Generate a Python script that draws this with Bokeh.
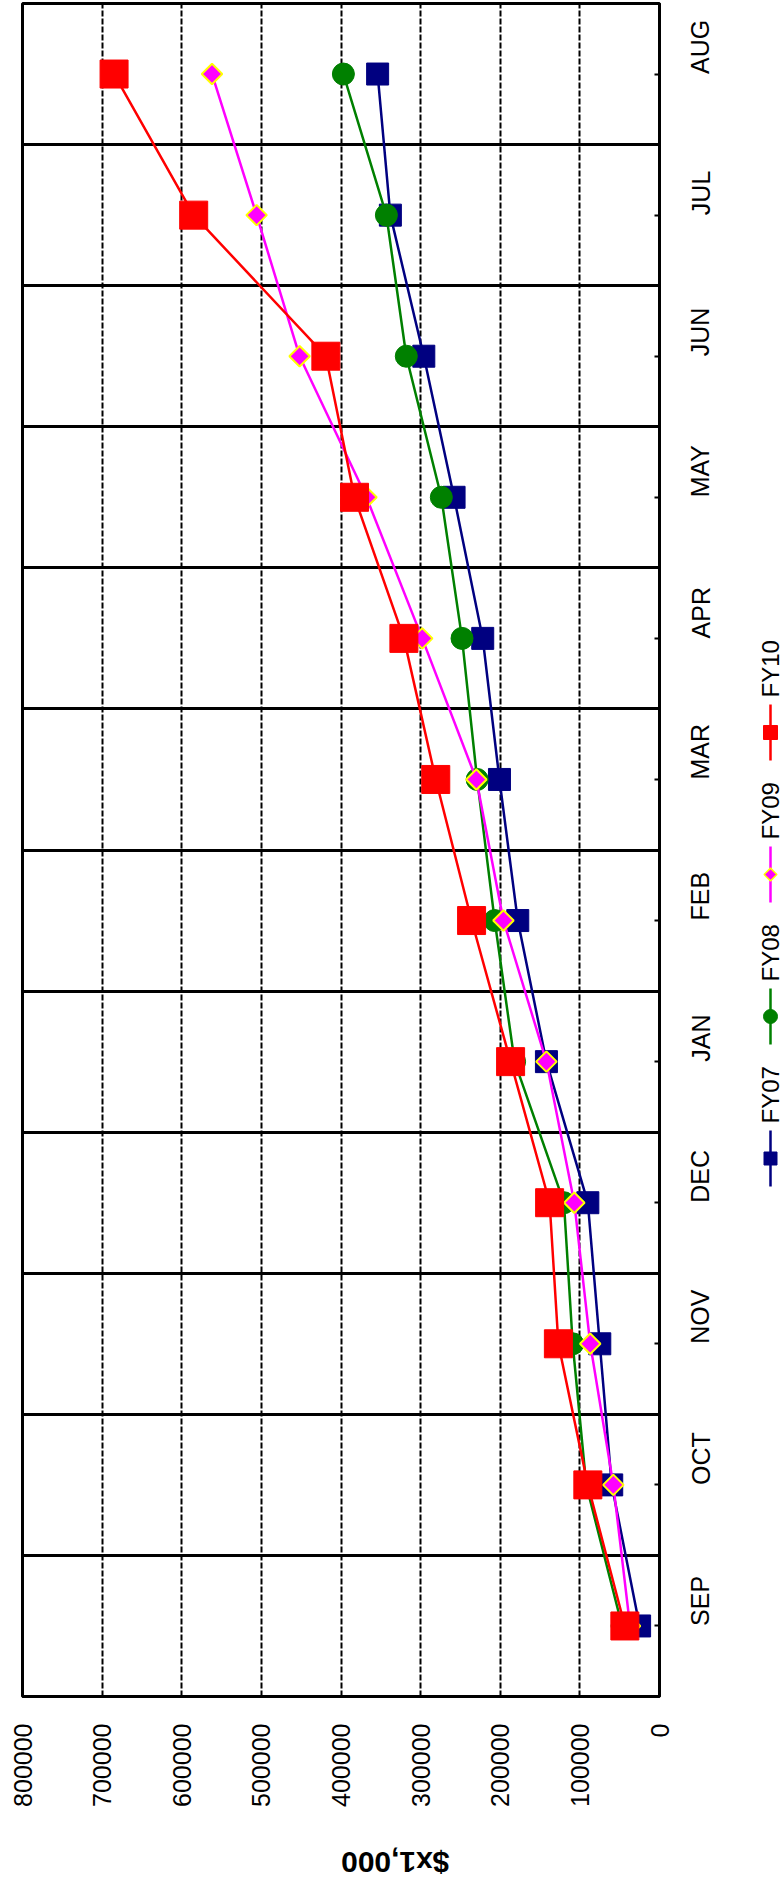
import math
from bokeh.plotting import figure
from bokeh.layouts import row
from bokeh.models import Range1d, FixedTicker, BasicTickFormatter
from bokeh.embed import file_html
from bokeh.resources import INLINE
from bokeh.core.properties import value

# ---------------- data ----------------
months = ["SEP", "OCT", "NOV", "DEC", "JAN", "FEB", "MAR", "APR", "MAY", "JUN", "JUL", "AUG"]
series = ["FY07", "FY08", "FY09", "FY10"]
fy07 = [25000, 60000, 75000, 90000, 142000, 178000, 201000, 222000, 258000, 296000, 338000, 354000]
fy08 = [47000, 92000, 109000, 120000, 182000, 207000, 229000, 248000, 274000, 318000, 343000, 397000]
fy09 = [37000, 58000, 87000, 107000, 142000, 196000, 230000, 298000, 368000, 452000, 506000, 562000]
fy10 = [43500, 90000, 127000, 138000, 187000, 236000, 281000, 321000, 383000, 419000, 585000, 685000]
value_ticks = [0, 100000, 200000, 300000, 400000, 500000, 600000, 700000, 800000]
axis_title = "$x1,000"

FONT = "Liberation Sans"
idx = list(range(len(months)))

styles = {
    "FY07": dict(color="#000080", marker="square", size=22, fill="#000080", edge="#000080", angle=0.0, lsize=13),
    "FY08": dict(color="#008000", marker="circle", size=22, fill="#008000", edge="#008000", angle=0.0, lsize=14),
    "FY09": dict(color="#FF00FF", marker="square", size=14.5, fill="#FF00FF", edge="#FFFF00", angle=math.pi / 4, lsize=9),
    "FY10": dict(color="#FF0000", marker="square", size=28, fill="#FF0000", edge="#FF0000", angle=0.0, lsize=14),
}
data = {"FY07": fy07, "FY08": fy08, "FY09": fy09, "FY10": fy10}

FRAME_W, FRAME_H = 637, 1693
TOP, BOTTOM, LEFT, RIGHT = 3, 190, 22, 90

# ---------------- main plot (drawn rotated) ----------------
p = figure(frame_width=FRAME_W, frame_height=FRAME_H,
           x_range=Range1d(800000, 0), y_range=Range1d(-0.5, 11.5),
           y_axis_location="right", x_axis_location="below",
           min_border_left=LEFT, min_border_right=RIGHT, min_border_top=TOP, min_border_bottom=BOTTOM,
           output_backend="svg", toolbar_location=None)
p.background_fill_color = "white"
p.border_fill_color = "white"
p.outline_line_color = "black"
p.outline_line_width = 3
p.outline_line_alpha = 1.0

xa = p.xaxis[0]
xa.ticker = FixedTicker(ticks=value_ticks)
xa.formatter = BasicTickFormatter(use_scientific=False)
xa.major_label_orientation = math.pi / 2
xa.major_label_text_font = FONT
xa.major_label_text_font_size = "25px"
xa.major_label_text_color = "black"
xa.major_label_standoff = 27
xa.major_tick_in = 0
xa.major_tick_out = 0
xa.minor_tick_in = 0
xa.minor_tick_out = 0
xa.axis_line_color = "black"
xa.axis_line_width = 3
xa.axis_label = axis_title
xa.axis_label_text_font = FONT
xa.axis_label_text_font_style = "bold"
xa.axis_label_text_font_size = "30px"
xa.axis_label_text_color = "black"
xa.axis_label_standoff = 53
try:
    xa.axis_label_orientation = math.pi
except Exception:
    pass

ya = p.yaxis[0]
ya.ticker = FixedTicker(ticks=idx)
ya.major_label_overrides = {i: m for i, m in enumerate(months)}
ya.major_label_orientation = math.pi / 2
ya.major_label_text_font = FONT
ya.major_label_text_font_size = "25px"
ya.major_label_text_color = "black"
ya.major_label_standoff = 41
ya.major_tick_in = 5
ya.major_tick_out = 0
ya.major_tick_line_width = 2
ya.major_tick_line_color = "black"
ya.minor_tick_in = 0
ya.minor_tick_out = 0
ya.axis_line_color = "black"
ya.axis_line_width = 3

p.xgrid.ticker = FixedTicker(ticks=value_ticks)
p.xgrid.grid_line_color = "black"
p.xgrid.grid_line_alpha = 1.0
p.xgrid.grid_line_width = 2
p.xgrid.grid_line_dash = "6 2"
p.ygrid.ticker = FixedTicker(ticks=[i + 0.5 for i in idx[:-1]])
p.ygrid.grid_line_color = "black"
p.ygrid.grid_line_alpha = 1.0
p.ygrid.grid_line_width = 3

for name in series:
    st = styles[name]
    p.line(data[name], idx, line_color=st["color"], line_width=2.5)
    p.scatter(data[name], idx, marker=st["marker"], size=st["size"], angle=st["angle"],
              fill_color=st["fill"], line_color=st["edge"], line_width=2 if name == "FY09" else 1)

# ---------------- legend panel (rotated) ----------------
LW = 784 - (LEFT + FRAME_W + RIGHT)
leg = figure(frame_width=LW, frame_height=FRAME_H, x_range=Range1d(0, LW), y_range=Range1d(0, FRAME_H),
             min_border_left=0, min_border_right=0, min_border_top=TOP, min_border_bottom=BOTTOM,
             output_backend="svg", toolbar_location=None)
leg.axis.visible = False
leg.grid.visible = False
leg.outline_line_color = None
leg.background_fill_color = "white"
leg.border_fill_color = "white"

lx = 770 - (LEFT + FRAME_W + RIGHT)
for i, name in enumerate(series):
    st = styles[name]
    yb = (TOP + FRAME_H) - (1158 - 142 * i)
    leg.segment(x0=[lx], y0=[yb - 28], x1=[lx], y1=[yb + 28], line_color=st["color"], line_width=2.5)
    leg.scatter([lx], [yb], marker=st["marker"], size=st["lsize"], angle=st["angle"],
                fill_color=st["fill"], line_color=st["edge"], line_width=1.5 if name == "FY09" else 1)
    leg.text(x=[lx], y=[yb + 35], text=[name], angle=math.pi / 2, text_align="left",
             text_baseline="middle", text_font=value(FONT), text_font_size="24px", text_color="black")

layout = row(p, leg)

open("out.html", "w").write(file_html(layout, INLINE))
